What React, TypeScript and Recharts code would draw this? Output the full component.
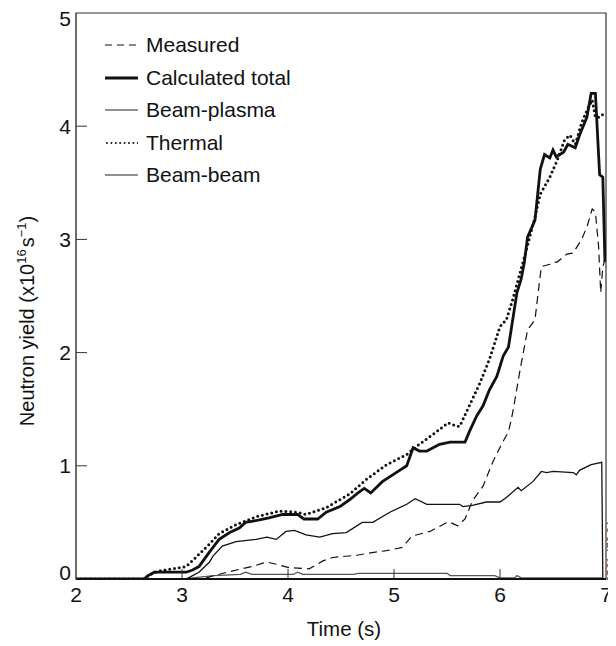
import React from 'react';
import { LineChart, Line, XAxis, YAxis, Legend, ReferenceArea, Customized } from 'recharts';

const FONT = '"Liberation Sans", Arial, Helvetica, sans-serif';

// time (s) / neutron yield (x10^16 s^-1)
const totalTime = [2.0, 2.64, 2.68, 2.74, 3.04, 3.1, 3.16, 3.26, 3.35, 3.45, 3.54, 3.6, 3.72, 3.82, 3.95, 4.09, 4.15, 4.28, 4.36, 4.49, 4.58, 4.66, 4.72, 4.78, 4.89, 5.02, 5.12, 5.18, 5.24, 5.31, 5.43, 5.53, 5.67, 5.71, 5.78, 5.84, 5.9, 5.97, 6.03, 6.08, 6.11, 6.16, 6.2, 6.23, 6.26, 6.33, 6.36, 6.38, 6.42, 6.47, 6.5, 6.53, 6.6, 6.64, 6.71, 6.75, 6.82, 6.86, 6.9, 6.94, 6.97, 6.99];
const totalYield = [0, 0, 0.03, 0.06, 0.06, 0.08, 0.11, 0.24, 0.35, 0.41, 0.45, 0.5, 0.52, 0.54, 0.57, 0.57, 0.53, 0.53, 0.59, 0.64, 0.7, 0.76, 0.8, 0.76, 0.86, 0.94, 1.0, 1.16, 1.13, 1.13, 1.19, 1.21, 1.21, 1.3, 1.44, 1.53, 1.67, 1.79, 1.97, 2.05, 2.23, 2.53, 2.65, 2.8, 3.02, 3.17, 3.44, 3.62, 3.75, 3.72, 3.79, 3.73, 3.77, 3.84, 3.81, 3.92, 4.08, 4.29, 4.29, 3.57, 3.55, 2.8];

const thermalTime = [2.0, 2.64, 2.7, 2.78, 3.04, 3.13, 3.26, 3.35, 3.51, 3.7, 3.92, 4.08, 4.17, 4.36, 4.58, 4.74, 4.93, 5.12, 5.21, 5.4, 5.51, 5.59, 5.62, 5.71, 5.81, 5.9, 6.0, 6.06, 6.12, 6.19, 6.25, 6.33, 6.38, 6.47, 6.54, 6.61, 6.66, 6.71, 6.77, 6.83, 6.87, 6.9, 6.94, 6.99];
const thermalYield = [0, 0, 0.04, 0.07, 0.11, 0.19, 0.31, 0.4, 0.48, 0.55, 0.6, 0.59, 0.57, 0.63, 0.75, 0.88, 1.01, 1.1, 1.17, 1.3, 1.38, 1.35, 1.35, 1.53, 1.73, 1.94, 2.23, 2.29, 2.47, 2.71, 2.91, 3.2, 3.4, 3.55, 3.7, 3.88, 3.92, 3.84, 4.03, 4.16, 4.23, 4.08, 4.08, 4.12];

const measuredTime = [2.0, 3.2, 3.3, 3.47, 3.66, 3.8, 3.89, 4.01, 4.2, 4.33, 4.42, 4.65, 4.84, 4.93, 5.08, 5.17, 5.34, 5.5, 5.53, 5.6, 5.67, 5.74, 5.84, 5.93, 6.02, 6.08, 6.12, 6.19, 6.23, 6.26, 6.33, 6.36, 6.39, 6.47, 6.5, 6.54, 6.63, 6.69, 6.77, 6.82, 6.87, 6.9, 6.93, 6.95, 6.97, 6.99];
const measuredYield = [0, 0, 0.03, 0.07, 0.11, 0.15, 0.13, 0.1, 0.09, 0.16, 0.19, 0.21, 0.24, 0.25, 0.28, 0.38, 0.42, 0.5, 0.5, 0.47, 0.53, 0.69, 0.82, 1.03, 1.2, 1.3, 1.47, 1.85, 2.05, 2.2, 2.29, 2.53, 2.76, 2.78, 2.8, 2.8, 2.87, 2.88, 3.0, 3.11, 3.27, 3.24, 2.94, 2.53, 2.76, 2.82];

const plasmaTime = [2.0, 3.04, 3.1, 3.16, 3.26, 3.29, 3.38, 3.51, 3.7, 3.8, 3.89, 3.98, 4.06, 4.17, 4.3, 4.42, 4.55, 4.7, 4.8, 4.96, 5.12, 5.2, 5.31, 5.62, 5.65, 5.74, 5.87, 6.0, 6.06, 6.17, 6.2, 6.31, 6.39, 6.44, 6.5, 6.69, 6.72, 6.75, 6.86, 6.96, 6.97];
const plasmaYield = [0, 0, 0.03, 0.06, 0.15, 0.2, 0.29, 0.33, 0.35, 0.37, 0.35, 0.42, 0.43, 0.39, 0.37, 0.4, 0.41, 0.5, 0.5, 0.59, 0.66, 0.71, 0.66, 0.66, 0.64, 0.65, 0.68, 0.68, 0.72, 0.81, 0.78, 0.86, 0.95, 0.94, 0.95, 0.94, 0.92, 0.96, 1.01, 1.03, 0];

const beamTime = [2.0, 3.0, 3.1, 3.3, 3.55, 3.6, 3.66, 4.05, 4.09, 4.14, 4.62, 4.66, 5.5, 5.53, 5.95, 6.0, 6.14, 6.16, 6.2, 6.97];
const beamYield = [0, 0, 0.01, 0.03, 0.04, 0.06, 0.04, 0.04, 0.06, 0.04, 0.04, 0.05, 0.05, 0.03, 0.03, 0.01, 0.01, 0.03, 0.01, 0.01];

const xTicks = [2, 3, 4, 5, 6, 7];
const yTicks = [0, 1, 2, 3, 4, 5];

const legendNames = ['Measured', 'Calculated total', 'Beam-plasma', 'Thermal', 'Beam-beam'];

const pairs = (t: number[], v: number[]) => t.map((x, i) => ({ t: x, v: v[i] }));

const YTick = (props: any) => {
  const { x, y, payload } = props;
  const v = payload.value;
  const shift = v === 0 ? 1 : v === 5 ? 8.5 : 7.5;
  return (
    <g>
      {v > 0 && v < 5 && <line x1={x + 5} x2={x + 16} y1={y} y2={y} stroke="#333" strokeWidth={1} />}
      <text x={x} y={y + shift} textAnchor="end" fontSize={21} fill="#111" fontFamily={FONT}>{v}</text>
    </g>
  );
};

const XTick = (props: any) => {
  const { x, y, payload } = props;
  const v = payload.value;
  return (
    <g>
      {v > 2 && v < 7 && <line x1={x} x2={x} y1={y} y2={y - 10} stroke="#333" strokeWidth={1} />}
      <text x={x} y={y + 23} textAnchor="middle" fontSize={21} fill="#111" fontFamily={FONT}>{v}</text>
    </g>
  );
};

const YTitle = (props: any) => {
  const { viewBox } = props;
  const x = viewBox.x + 18;
  const y = viewBox.y + viewBox.height / 2 + 25;
  return (
    <text x={x} y={y} transform={`rotate(-90, ${x}, ${y})`} textAnchor="middle" fontSize={20} fill="#111" fontFamily={FONT}>
      Neutron yield (x10<tspan dy={-8} fontSize={13}>16</tspan><tspan dy={8} dx={2}>s</tspan><tspan dy={-8} fontSize={13}>−1</tspan><tspan dy={8}>)</tspan>
    </text>
  );
};

const XTitle = (props: any) => {
  const { viewBox } = props;
  return (
    <text x={viewBox.x + viewBox.width / 2 + 3} y={viewBox.y + 57} textAnchor="middle" fontSize={20.5} fill="#111" fontFamily={FONT}>
      Time (s)
    </text>
  );
};

const sample = (name: string) => {
  switch (name) {
    case 'Measured':
      return <line x1={0} x2={33} y1={8} y2={8} stroke="#111" strokeWidth={1.2} strokeDasharray="7 5" />;
    case 'Calculated total':
      return <line x1={0} x2={33} y1={8} y2={8} stroke="#111" strokeWidth={3} />;
    case 'Thermal':
      return <line x1={2} x2={33} y1={8} y2={8} stroke="#111" strokeWidth={2} strokeDasharray="0 4.4" strokeLinecap="round" />;
    default:
      return <line x1={0} x2={33} y1={8} y2={8} stroke="#222" strokeWidth={1.2} />;
  }
};

const renderLegend = () => (
  <div style={{ fontFamily: FONT, fontSize: 21, color: '#111' }}>
    {legendNames.map((n) => (
      <div key={n} style={{ display: 'flex', alignItems: 'center', height: 32.5 }}>
        <svg width={33} height={16} style={{ marginRight: 8 }}>{sample(n)}</svg>
        <span>{n}</span>
      </div>
    ))}
  </div>
);

const SideCode = () => (
  <text x={607} y={541} transform="rotate(-90, 607, 541)" textAnchor="middle" fontSize={10.5} fill="#333" fontFamily={FONT}>
    JG01.476-24c
  </text>
);

export default function App() {
  return (
    <div style={{ width: 608, height: 638, position: 'relative' }}>
      <LineChart width={608} height={638} margin={{ top: 5, right: 10, left: 8, bottom: 27 }}>
        <XAxis
          type="number"
          dataKey="t"
          domain={[2, 7]}
          ticks={xTicks}
          height={40}
          tickSize={0}
          tickMargin={0}
          tickLine={false}
          tick={<XTick />}
          axisLine={{ stroke: '#111', strokeWidth: 1.8 }}
          allowDataOverflow
          label={<XTitle />}
        />
        <YAxis
          type="number"
          domain={[0, 5]}
          ticks={yTicks}
          width={60}
          tickSize={0}
          tickMargin={5}
          tickLine={false}
          tick={<YTick />}
          axisLine={{ stroke: '#555', strokeWidth: 1 }}
          allowDataOverflow
          label={<YTitle />}
        />
        <ReferenceArea x1={2} x2={7} y1={0} y2={5} fill="none" stroke="#333" strokeWidth={1.2} ifOverflow="visible" />
        <Line data={pairs(beamTime, beamYield)} dataKey="v" name="Beam-beam" stroke="#555" strokeWidth={1.3} dot={false} isAnimationActive={false} />
        <Line data={pairs(plasmaTime, plasmaYield)} dataKey="v" name="Beam-plasma" stroke="#111" strokeWidth={1.3} dot={false} isAnimationActive={false} />
        <Line data={pairs(measuredTime, measuredYield)} dataKey="v" name="Measured" stroke="#111" strokeWidth={1.2} strokeDasharray="8 5" dot={false} isAnimationActive={false} />
        <Line data={pairs(totalTime, totalYield)} dataKey="v" name="Calculated total" stroke="#111" strokeWidth={2.8} dot={false} isAnimationActive={false} />
        <Line data={pairs(thermalTime, thermalYield)} dataKey="v" name="Thermal" stroke="#111" strokeWidth={3} strokeDasharray="0 4.8" strokeLinecap="round" dot={false} isAnimationActive={false} />
        <Legend layout="vertical" align="center" verticalAlign="middle" content={renderLegend} wrapperStyle={{ left: 97, top: 21, width: 260 }} />
        <Customized component={SideCode} />
      </LineChart>
    </div>
  );
}
